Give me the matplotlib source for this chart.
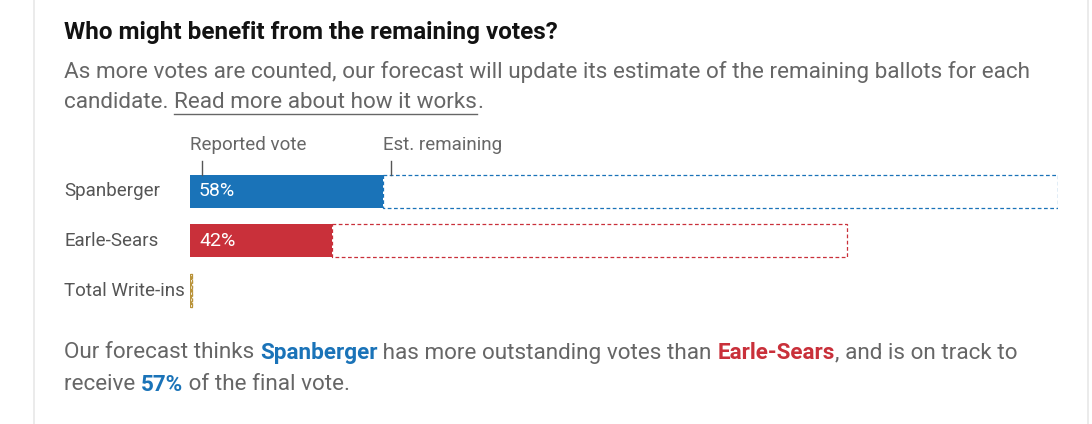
import matplotlib
matplotlib.use("Agg")
import matplotlib.pyplot as plt
from matplotlib.patches import Rectangle

candidates = ["Spanberger", "Earle-Sears", "Total Write-ins"]
reported = [193, 142, 0.6]
remaining = [675, 515, 1.4]
shares = ["58%", "42%", ""]
colors = ["#1a73b8", "#c9303a", "#b9933a"]

W, H = 1092, 424
fig = plt.figure(figsize=(W/100, H/100), dpi=100)
fig.patch.set_facecolor("white")
plt.rcParams['font.family'] = ['Roboto', 'DejaVu Sans']

def px(x, y):
    return x / W, 1 - y / H

fig.add_artist(plt.Line2D([34/W]*2, [0, 1], color="#e8e8e8", lw=1.2))
fig.add_artist(plt.Line2D([1088/W]*2, [0, 1], color="#e8e8e8", lw=1.2))

GRAY = "#666666"
FS = 16.2
fig.text(*px(64, 32), "Who might benefit from the remaining votes?", fontsize=17.5, weight="bold",
         color="#121212", va="center")
fig.text(*px(64, 72), "As more votes are counted, our forecast will update its estimate of the remaining ballots for each",
         fontsize=FS, color=GRAY, va="center")

x0, x1, y0, y1 = 190, 1058, 166, 316
ax = fig.add_axes([x0/W, 1 - y1/H, (x1-x0)/W, (y1-y0)/H])
ax.set_xlim(0, sum([reported[0], remaining[0]]))
ax.set_ylim(y1, y0)
ax.axis("off")
ys = [191.5, 241, 291]
h = 33
for i, c in enumerate(candidates):
    ax.barh(ys[i], reported[i], height=h, color=colors[i], left=0, zorder=2)
    ax.add_patch(Rectangle((reported[i], ys[i]-h/2), remaining[i], h, fill=False,
                           edgecolor=colors[i], lw=0.9, ls=(0, (3, 2)), zorder=1))
    if i == 2:
        ax.add_patch(Rectangle((0, ys[i]-h/2), reported[i]+remaining[i], h, fill=False,
                               edgecolor=colors[i], lw=0.9, ls=(0, (2, 1.5))))
    if shares[i]:
        ax.text(9, ys[i], shares[i], color="white", fontsize=14, va="center", ha="left")
    fig.text(64/W, 1 - ys[i]/H, c, fontsize=13.5, color="#555555", va="center")

fig.text(*px(190, 145), "Reported vote", fontsize=13.5, color=GRAY, va="center")
fig.text(*px(383, 145), "Est. remaining", fontsize=13.5, color=GRAY, va="center")
fig.add_artist(plt.Line2D([202/W]*2, [1-161/H, 1-175/H], color="#555", lw=1))
fig.add_artist(plt.Line2D([391/W]*2, [1-161/H, 1-175/H], color="#555", lw=1))

fig.canvas.draw()
r = fig.canvas.get_renderer()

def seq(x, y, parts):
    out = []
    for s, col, wt in parts:
        t = fig.text(x/W, 1 - y/H, s, fontsize=FS, color=col, weight=wt, va="center")
        bb = t.get_window_extent(r)
        out.append((t, x, bb.width))
        x += bb.width
    return out

res = seq(64, 103, [("candidate. ", GRAY, "normal"), ("Read more about how it works", GRAY, "normal"),
                    (".", GRAY, "normal")])
_, lx, lw_ = res[1]
fig.add_artist(plt.Line2D([lx/W, (lx+lw_)/W], [1-114/H]*2, color=GRAY, lw=1))

BLUE, RED = "#1a73b8", "#c9303a"
seq(64, 353, [("Our forecast thinks ", GRAY, "normal"), ("Spanberger", BLUE, "bold"),
              (" has more outstanding votes than ", GRAY, "normal"), ("Earle-Sears", RED, "bold"),
              (", and is on track to", GRAY, "normal")])
seq(64, 385, [("receive ", GRAY, "normal"), ("57%", BLUE, "bold"), (" of the final vote.", GRAY, "normal")])

fig.savefig("out.png", dpi=100)
